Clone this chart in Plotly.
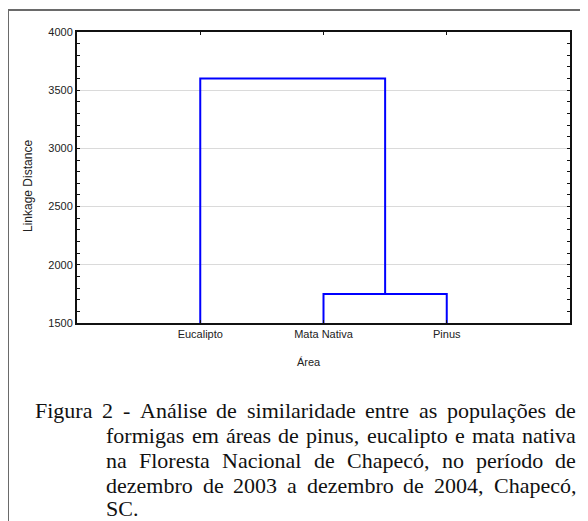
import plotly.graph_objects as go

# ---- data ----
leaves = ["Eucalipto", "Mata Nativa", "Pinus"]
leaf_pos = [1, 2, 3]
merge_low = 1750    # Mata Nativa + Pinus
merge_high = 3600   # Eucalipto + (Mata Nativa, Pinus)
y_base = 1500
y_ticks = [1500, 2000, 2500, 3000, 3500, 4000]

caption_lines = [
    "Figura 2 - Análise de similaridade entre as populações de",
    "formigas em áreas de pinus, eucalipto e mata nativa",
    "na Floresta Nacional de Chapecó, no período de",
    "dezembro de 2003 a dezembro de 2004, Chapecó,",
    "SC.",
]

# ---- layout geometry (screen pixels; page body has an 8px margin) ----
OFF = 8
W, H = 588 - OFF, 521 - OFF
L, R, T, B = 77 - OFF, 570 - OFF, 32 - OFF, 323 - OFF
pw, ph = R - L, B - T

def px(sx):
    return (sx - OFF - L) / pw

def py(sy):
    return (B - (sy - OFF)) / ph

mid = (leaf_pos[1] + leaf_pos[2]) / 2
xs = [leaf_pos[0], leaf_pos[0], mid, mid, leaf_pos[1], leaf_pos[1], None,
      mid, leaf_pos[2], leaf_pos[2]]
ys = [y_base, merge_high, merge_high, merge_low, merge_low, y_base, None,
      merge_low, merge_low, y_base]

fig = go.Figure()
fig.add_trace(go.Scatter(x=xs, y=ys, mode="lines",
                         line=dict(color="#0000FF", width=2),
                         hoverinfo="skip", showlegend=False))

tickfont = dict(family="Liberation Sans, Arial", size=11, color="#222")
fig.update_layout(
    width=W, height=H,
    margin=dict(l=L, r=W - R, t=T, b=H - B, pad=0),
    paper_bgcolor="white", plot_bgcolor="white",
    showlegend=False,
    xaxis=dict(range=[0, 4], tickvals=leaf_pos, ticktext=leaves,
               showgrid=False, zeroline=False, showline=True,
               linecolor="#111", linewidth=2, mirror="ticks",
               ticks="inside", ticklen=3, tickcolor="#111",
               tickfont=tickfont),
    yaxis=dict(range=[y_ticks[0], y_ticks[-1]], tickvals=y_ticks,
               showgrid=True, gridcolor="#dadada", gridwidth=1,
               zeroline=False, showline=True, linecolor="#111",
               linewidth=2, mirror="ticks", ticks="inside", ticklen=3,
               tickcolor="#111", tickfont=tickfont,
               minor=dict(dtick=100, ticks="inside", ticklen=3,
                          tickcolor="#111", showgrid=False)),
)

# outer frame (left and top edges visible)
frame = dict(color="#6a6a6a", width=2)
fig.add_shape(type="line", xref="paper", yref="paper",
              x0=px(8), y0=py(10), x1=px(600), y1=py(10), line=frame)
fig.add_shape(type="line", xref="paper", yref="paper",
              x0=px(8), y0=py(10), x1=px(8), y1=py(540), line=frame)

# axis titles
fig.add_annotation(text="Linkage Distance", xref="paper", yref="paper",
                   x=px(28), y=py(186), textangle=-90, showarrow=False,
                   xanchor="center", yanchor="middle",
                   font=dict(family="Liberation Sans, Arial", size=12, color="#222"))
fig.add_annotation(text="Área", xref="paper", yref="paper",
                   x=px(309), y=py(362), showarrow=False,
                   xanchor="center", yanchor="middle",
                   font=dict(family="Liberation Sans, Arial", size=11, color="#222"))

# caption, justified word by word (Times metrics)
TW = {' ': 250, 'a': 444, 'b': 500, 'c': 444, 'd': 500, 'e': 444, 'f': 333,
      'g': 500, 'h': 500, 'i': 278, 'j': 278, 'k': 500, 'l': 278, 'm': 778,
      'n': 500, 'o': 500, 'p': 500, 'q': 500, 'r': 333, 's': 389, 't': 278,
      'u': 500, 'v': 500, 'w': 722, 'x': 500, 'y': 500, 'z': 444, 'A': 722,
      'C': 667, 'F': 556, 'N': 722, 'S': 556, ',': 250, '.': 250, '-': 333,
      '0': 500, '1': 500, '2': 500, '3': 500, '4': 500, 'á': 444, 'ç': 444,
      'õ': 500, 'é': 444, 'í': 278, 'ó': 500}
FS = 22

def wwidth(w):
    return sum(TW.get(c, 500) for c in w) / 1000 * FS

cap_font = dict(family="Liberation Serif, Times New Roman", size=FS, color="#111")
x_first, x_indent, x_right = 33, 104, 574
line_y = [410, 435, 460, 485, 508]
for i, line in enumerate(caption_lines):
    words = line.split(" ")
    xa = x_first if i == 0 else x_indent
    last = i == len(caption_lines) - 1
    widths = [wwidth(w) for w in words]
    if last or len(words) == 1:
        gap = wwidth(" ")
    else:
        gap = (x_right - xa - sum(widths)) / (len(words) - 1)
    x = xa
    for w, ww in zip(words, widths):
        fig.add_annotation(text=w, xref="paper", yref="paper",
                           x=px(x), y=py(line_y[i]), showarrow=False,
                           xanchor="left", yanchor="middle",
                           font=cap_font)
        x += ww + gap

fig.write_html("out.html")
